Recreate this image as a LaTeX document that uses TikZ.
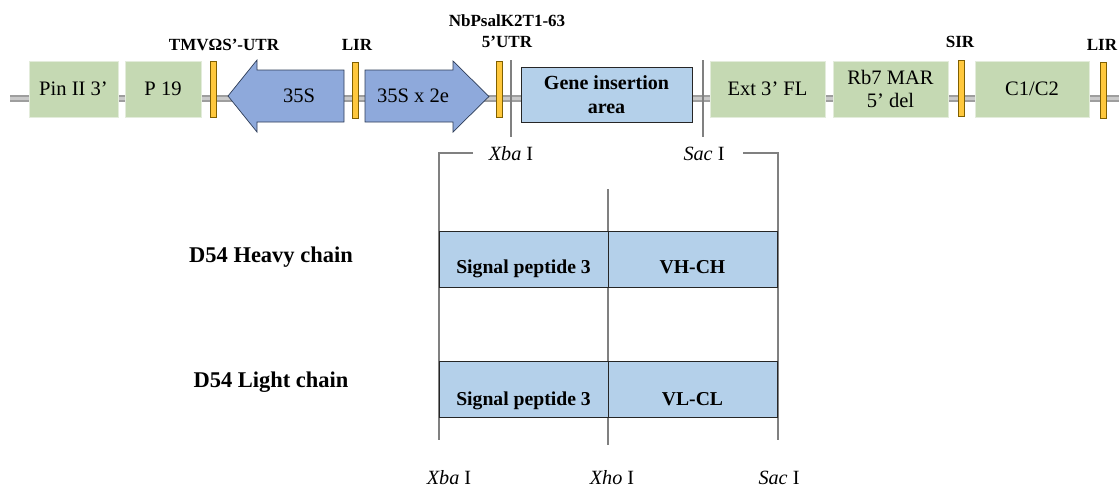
\documentclass[tikz,border=0pt]{standalone}
\usepackage{fontspec}
\setmainfont{Liberation Serif}
\usepackage{tikz}
\usetikzlibrary{positioning,calc}
\definecolor{partgreen}{HTML}{C5D9B3}
\definecolor{partgreenline}{HTML}{E3ECDB}
\definecolor{promblue}{HTML}{8EA9DB}
\definecolor{promline}{HTML}{2E3D58}
\definecolor{insblue}{HTML}{B4D0EA}
\definecolor{irorange}{HTML}{FFC83D}
\definecolor{irline}{HTML}{806000}
\definecolor{backboneout}{HTML}{9E9E9E}
\definecolor{backbonein}{HTML}{CACACA}
\definecolor{siteline}{HTML}{808080}

\begin{document}
\begin{tikzpicture}[
  x=0.02cm, y=-0.02cm,
  every node/.style={inner sep=0pt, font=\fontsize{11.7}{13.6}\selectfont},
  part/.style={draw=partgreenline, fill=partgreen, minimum height=1.12cm, align=center},
  ir/.style={draw=irline, fill=irorange, minimum width=0.12cm, minimum height=1.12cm},
  prom/.style={draw=promline, fill=promblue, line join=miter},
  ins/.style={draw=black!85, fill=insblue, minimum width=3.38cm, minimum height=1.12cm},
  boxtext/.style={anchor=base, font=\fontsize{11.2}{13.6}\selectfont\bfseries},
  tag/.style={anchor=base, font=\fontsize{9.7}{12}\selectfont\bfseries},
  site/.style={anchor=base, font=\fontsize{11.5}{13}\selectfont},
  chain/.style={anchor=base, font=\fontsize{12.8}{16}\selectfont\bfseries},
  cut/.style={draw=siteline, line width=0.6pt}
]
\useasboundingbox (0,0) rectangle (1119,488);
\clip (0,0) rectangle (1119,488);

\coordinate (bbl) at (10,98.5);
\coordinate (bbr) at (1119,98.5);
\draw[backboneout, line width=4.2pt] (bbl) -- (bbr);
\draw[backbonein, line width=1.4pt] (bbl) -- (bbr);

\draw[cut] (511,60) -- (511,137);
\draw[cut] (703,60) -- (703,137);

\node[part, minimum width=1.78cm] (pin) at (73.5,89) {Pin II 3’};
\node[part, minimum width=1.52cm] (p19) at (163,89) {P 19};
\node[part, minimum width=2.3cm] (ext) at (767.5,89) {Ext 3’ FL};
\node[part, minimum width=2.3cm] (rb7) at (890.5,89) {Rb7 MAR\\5’ del};
\node[part, minimum width=2.28cm] (c1c2) at (1032,89) {C1/C2};

\node[ir] (ir1) at (213,89.5) {};
\node[ir] (ir2) at (355,90) {};
\node[ir] (ir3) at (499,89.5) {};
\node[ir] (ir4) at (961,88) {};
\node[ir] (ir5) at (1103,90) {};

\draw[prom] (228,96) -- (257,60) -- (257,70) -- (344,70) -- (344,122) -- (257,122) -- (257,132) -- cycle;
\node (p35s) at (299,96) {35S};
\draw[prom] (365,70) -- (453,70) -- (453,61) -- (489,96.5) -- (453,132) -- (453,122) -- (365,122) -- cycle;
\node (p35s2e) at (413,96) {35S x 2e};

\node[ins, minimum width=3.42cm, minimum height=1.1cm, align=center,
  font=\fontsize{11.4}{13.6}\selectfont\bfseries] (gia) at (606.5,94.5) {Gene insertion\\area};

\node[tag] (tmv) at (224,50) {TMVΩS’-UTR};
\node[tag] (lir1) at (357,50) {LIR};
\node[tag, align=center] (nbp) at (507,47.7) {NbPsalK2T1-63\\5’UTR};
\node[tag] (sir) at (960,47.7) {SIR};
\node[tag] (lir2) at (1102,50) {LIR};

\node[site] (xbatop) at (511,160.7) {\textit{Xba} I};
\node[site] (sactop) at (704,160.7) {\textit{Sac} I};
\draw[cut] (473,153) -- (439,153) -- (439,440);
\draw[cut] (743,153) -- (778,153) -- (778,440);
\draw[cut] (608,189) -- (608,445);

\node[chain] (heavy) at (271,262.3) {D54 Heavy chain};
\node[ins] (hsp) at (523.5,259) {};
\node[ins] (hvc) at (692.5,259) {};
\node[boxtext] (hsptxt) at (523.5,273) {Signal peptide 3};
\node[boxtext] (hvctxt) at (692.5,273) {VH-CH};

\node[chain] (light) at (271,387.7) {D54 Light chain};
\node[ins] (lsp) at (523.5,389.5) {};
\node[ins] (lvc) at (692.5,389.5) {};
\node[boxtext] (lsptxt) at (523.5,405) {Signal peptide 3};
\node[boxtext] (lvctxt) at (692.5,405) {VL-CL};

\node[site] (xbabot) at (449,484) {\textit{Xba} I};
\node[site] (xhobot) at (612,484) {\textit{Xho} I};
\node[site] (sacbot) at (779,484) {\textit{Sac} I};
\end{tikzpicture}
\end{document}
